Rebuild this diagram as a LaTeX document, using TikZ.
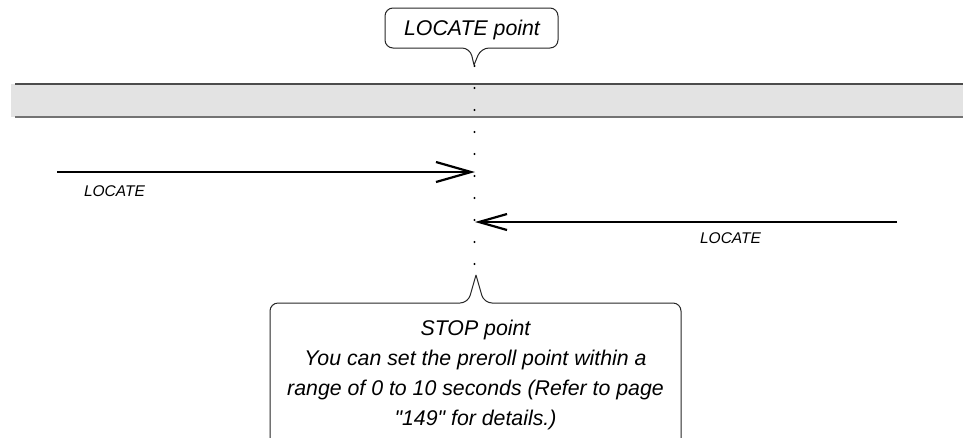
\documentclass[tikz,border=0pt]{standalone}
\usepackage{fontspec}
\setmainfont{Liberation Sans}[Ligatures=TeXOff]
\usetikzlibrary{arrows.meta}
\begin{document}
\begin{tikzpicture}[x=1pt,y=-1pt,
  calloutline/.style={draw=black!85,line width=1pt,rounded corners=8pt},
  bigtext/.style={font=\fontsize{21.3}{30}\selectfont\itshape,inner sep=0pt},
  smalltext/.style={font=\fontsize{15.5}{18}\selectfont\itshape,inner sep=0pt},
  dotmark/.style={fill=black,circle,inner sep=0pt,minimum size=2.4pt},
  locarrow/.style={line width=2.2pt}]
\useasboundingbox (0,0) rectangle (963,437);
\clip (0,0) rectangle (963,437);
% band
\fill[black!11] (11,84) rectangle (963,117);
\draw[black!70,line width=1.2pt] (15,84) -- (963,84);
\draw[black!55,line width=2pt] (15,117) -- (963,117);
% top callout
\draw[calloutline] (474,65) -- (470,48) -- (385,48) -- (385,8) -- (558,8) -- (558,48) -- (481,48) [sharp corners] -- (474,65);
\node[bigtext,anchor=base] (lp) at (472,35) {LOCATE point};
% dotted line
\foreach \i in {0,...,9} {
  \node[dotmark] (d\i) at (474.5,66+22*\i) {};
}
% arrows
\coordinate (a1s) at (57,172);
\coordinate (a1e) at (475,172);
\coordinate (a2s) at (897,222);
\coordinate (a2e) at (475,222);
\draw[locarrow,-{Straight Barb[length=35pt,width=20pt,line width=2.2pt]}] (a1s) -- (a1e);
\draw[locarrow,-{Straight Barb[length=28pt,width=16pt,line width=2.2pt]}] (a2s) -- (a2e);
\node[smalltext,anchor=base] (l1) at (114.5,196.5) {LOCATE};
\node[smalltext,anchor=base] (l2) at (730.5,243) {LOCATE};
% bottom callout
\draw[calloutline] (476,275) -- (468,303) -- (270,303) -- (270,460) (681,460) -- (681,303) -- (484,303) [sharp corners] -- (476,275);
\node[bigtext,anchor=base,align=center] (stop) at (475.5,425) {STOP point\\You can set the preroll point within a\\range of 0 to 10 seconds (Refer to page\\"149" for details.)};
\end{tikzpicture}
\end{document}
